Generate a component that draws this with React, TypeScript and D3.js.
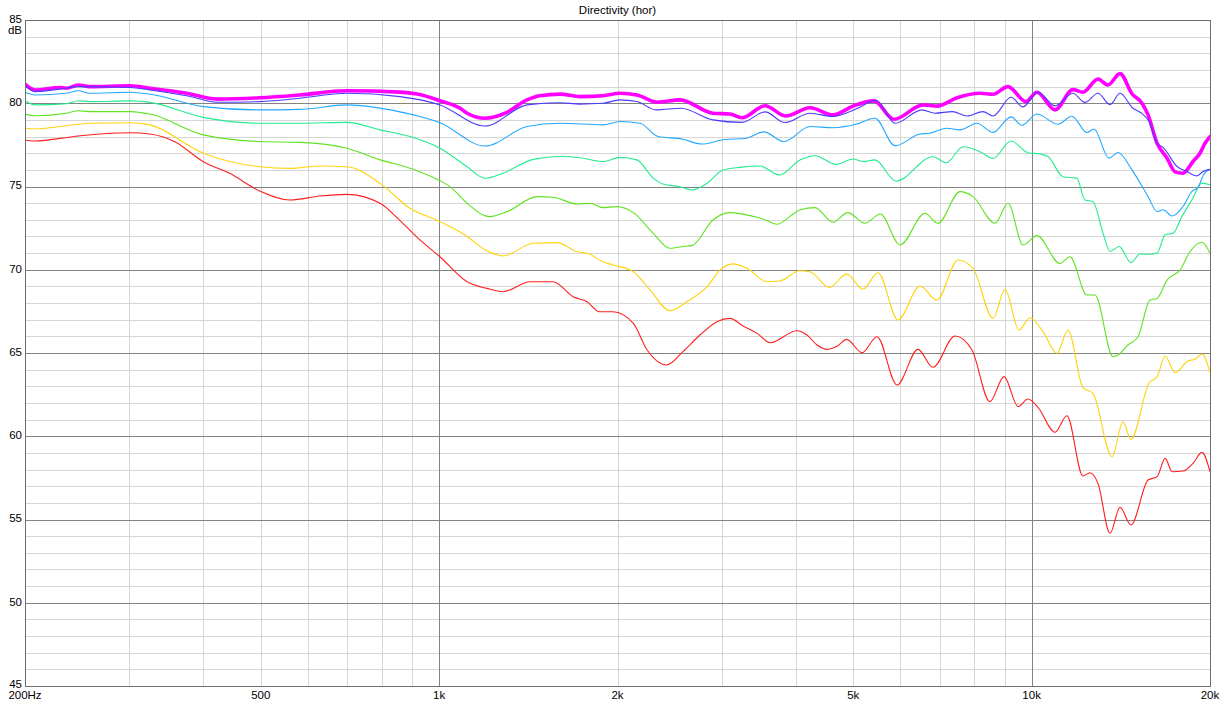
import React from 'react';
import * as d3 from 'd3';

const W = 1228;
const H = 716;
const PLOT = { left: 25, right: 1210, top: 20, bottom: 686 };

const title = 'Directivity (hor)';
const yUnit = 'dB';
const xLabelFreqs = [200, 500, 1000, 2000, 5000, 10000, 20000];
const xLabelTexts = ['200Hz', '500', '1k', '2k', '5k', '10k', '20k'];
const xMinorFreqs = [300, 400, 500, 600, 700, 800, 900, 2000, 3000, 4000, 5000, 6000, 7000, 8000, 9000];
const xMajorFreqs = [1000, 10000];
const yLabelValues = [45, 50, 55, 60, 65, 70, 75, 80, 85];
const yMinorValues = d3.range(46, 85, 1);

type Pt = [number, number];

const deg0: Pt[] = [[200,81.15],[208,80.8],[229,80.95],[235,80.9],[246,81.1],[257,81.0],[301,81.05],[325,80.9],[375,80.6],[422,80.25],[498,80.33],[582,80.5],[699,80.75],[859,80.67],[918,80.55],[1003,80.15],[1085,79.7],[1115,79.4],[1195,79.1],[1292,79.4],[1407,80.2],[1479,80.45],[1600,80.55],[1729,80.4],[1891,80.45],[2019,80.6],[2157,80.5],[2332,80.06],[2549,80.2],[2898,79.4],[3097,79.35],[3245,79.13],[3549,79.85],[3846,79.23],[4226,79.73],[4620,79.3],[4994,79.83],[5419,80.14],[5857,79.04],[6556,79.9],[6924,79.83],[7482,80.33],[8182,80.6],[8607,80.54],[9124,81.0],[9781,80.1],[10208,80.66],[10949,79.6],[11740,80.82],[12207,80.66],[12939,81.45],[13455,81.1],[14098,81.78],[14767,80.57],[15354,80.0],[15721,79.3],[16282,77.6],[16927,76.7],[17460,75.88],[18007,75.8],[18720,76.5],[19237,77.0],[19615,77.6],[20000,78.0]];

const deg15: Pt[] = [[200,81.05],[208,80.7],[229,80.85],[246,81.0],[301,80.95],[325,80.8],[375,80.45],[422,80.06],[498,80.1],[582,80.3],[699,80.6],[859,80.4],[1003,79.9],[1195,78.63],[1407,79.9],[1600,80.03],[1729,79.95],[1891,80.0],[2019,80.2],[2157,80.1],[2323,79.6],[2559,79.7],[2898,79.0],[3245,78.85],[3549,79.48],[3831,78.84],[4226,79.4],[4620,79.2],[5053,79.65],[5461,80.18],[5880,78.8],[6530,79.6],[6865,79.4],[7349,79.5],[7781,79.23],[8276,79.5],[8607,79.23],[9232,80.36],[9669,79.78],[10249,80.68],[10949,79.84],[11740,80.6],[12300,80.05],[12939,80.6],[13560,79.92],[14098,80.6],[14825,79.7],[15295,79.43],[15782,78.9],[16282,77.6],[16668,77.35],[17596,76.2],[18287,75.9],[19014,75.64],[19462,75.9],[20000,76.03]];

const deg30: Pt[] = [[200,80.66],[208,80.5],[235,80.6],[246,80.75],[257,80.6],[301,80.66],[325,80.54],[400,79.8],[498,79.6],[582,79.63],[699,79.9],[859,79.48],[928,79.2],[1003,78.83],[1195,77.43],[1407,78.6],[1600,78.8],[1891,78.7],[2019,78.9],[2183,78.8],[2341,78.0],[2569,77.85],[2778,77.55],[3037,77.82],[3283,77.88],[3534,78.28],[3817,77.7],[4226,78.6],[4620,78.53],[5033,78.72],[5440,79.1],[5880,77.44],[6480,78.15],[6736,78.2],[7180,78.5],[7571,78.4],[8087,78.8],[8607,78.25],[9232,79.18],[9630,78.68],[10208,79.35],[11078,78.74],[11695,79.22],[12398,78.24],[12740,78.45],[13508,76.7],[13990,77.04],[14767,76.0],[15721,74.4],[16282,73.5],[16668,73.6],[17264,73.23],[18007,73.8],[18646,74.7],[19088,74.95],[19538,75.75],[20000,76.03]];

const deg45: Pt[] = [[200,80.15],[208,79.9],[235,79.97],[246,80.15],[257,80.1],[301,80.14],[325,80.05],[400,79.15],[498,78.8],[582,78.8],[699,78.85],[795,78.4],[893,78.0],[1003,77.3],[1115,76.19],[1195,75.5],[1282,75.8],[1441,76.63],[1600,76.8],[1729,76.73],[1891,76.5],[2019,76.75],[2157,76.6],[2298,75.5],[2386,75.15],[2549,74.99],[2671,74.79],[2833,75.19],[3014,75.99],[3216,76.15],[3480,76.23],[3753,75.69],[4063,76.59],[4309,76.85],[4674,76.33],[4994,76.65],[5193,76.5],[5440,76.6],[5903,75.33],[6813,76.79],[7180,76.43],[7659,77.39],[8182,77.09],[8607,76.69],[9232,77.73],[9857,77.03],[10330,76.95],[10657,76.8],[11294,75.59],[11925,75.49],[12300,74.19],[12690,74.09],[13200,72.19],[13560,71.1],[14055,71.4],[14710,70.43],[15236,70.95],[15845,70.93],[16282,71.0],[16800,72.1],[17331,72.2],[17936,73.2],[18646,74.2],[19387,75.2],[20000,75.1]];

const deg60: Pt[] = [[200,79.35],[208,79.25],[235,79.4],[246,79.55],[257,79.5],[301,79.5],[325,79.35],[400,78.1],[498,77.7],[582,77.65],[699,77.3],[795,76.6],[893,76.1],[1003,75.35],[1043,74.99],[1115,73.99],[1216,73.19],[1302,73.49],[1464,74.39],[1557,74.35],[1711,73.95],[1798,73.99],[1891,73.73],[1996,73.79],[2127,73.43],[2298,72.19],[2451,71.29],[2619,71.43],[2671,71.45],[2898,72.99],[3097,73.43],[3348,73.25],[3520,73.05],[3719,72.73],[3906,73.19],[4063,73.59],[4309,73.73],[4620,72.85],[4893,73.43],[5233,72.79],[5553,73.35],[5997,71.49],[6607,73.39],[6946,72.79],[7571,74.69],[7962,74.39],[8675,72.79],[9124,73.99],[9669,71.49],[10208,72.05],[11163,70.38],[11605,70.78],[12398,68.48],[12790,68.48],[13720,64.78],[13990,64.88],[14541,65.48],[15118,65.98],[15845,68.18],[16282,68.28],[16927,69.38],[17800,69.98],[18502,71.08],[19387,71.65],[20000,70.99]];

const deg75: Pt[] = [[200,78.5],[208,78.45],[235,78.65],[257,78.8],[301,78.83],[325,78.7],[400,77.0],[443,76.5],[498,76.19],[560,76.09],[629,76.23],[699,76.19],[795,75.19],[893,73.69],[1003,72.89],[1115,72.0],[1195,71.2],[1282,70.83],[1441,71.59],[1581,71.63],[1711,71.08],[1784,70.98],[1891,70.48],[1965,70.29],[2127,69.88],[2271,68.78],[2451,67.54],[2619,68.08],[2833,68.98],[2979,69.98],[3133,70.35],[3309,70.09],[3577,69.28],[3753,69.32],[4063,69.94],[4226,69.88],[4559,68.94],[4874,69.74],[5193,68.84],[5505,69.82],[5949,66.98],[6480,69.02],[6919,68.18],[7511,70.59],[7962,70.09],[8607,67.08],[9018,68.82],[9518,66.38],[9934,67.12],[10452,66.28],[11035,64.98],[11517,66.38],[12207,62.92],[12690,62.58],[13666,58.77],[14263,60.87],[14710,59.81],[15782,63.2],[16282,63.58],[16800,64.82],[17460,63.82],[18358,64.52],[18866,64.62],[19387,64.94],[20000,63.82]];

const deg90: Pt[] = [[200,77.79],[208,77.73],[229,77.89],[248,78.05],[301,78.23],[325,78.15],[358,77.69],[400,76.49],[443,75.79],[498,74.73],[560,74.19],[629,74.43],[699,74.53],[795,73.99],[859,72.95],[928,71.79],[1003,70.78],[1115,69.28],[1204,68.88],[1282,68.68],[1424,69.28],[1557,69.28],[1683,68.38],[1777,68.08],[1865,67.48],[1965,67.48],[2127,66.78],[2244,65.18],[2422,64.28],[2579,65.08],[2756,66.08],[2944,66.88],[3097,67.08],[3258,66.62],[3441,66.18],[3618,65.62],[4017,66.34],[4177,66.08],[4343,65.48],[4524,65.22],[4692,65.4],[4874,65.82],[5173,65.02],[5483,65.98],[5926,63.08],[6429,65.22],[6813,64.14],[7424,66.02],[7931,65.18],[8502,62.08],[8982,63.58],[9489,61.78],[9857,62.24],[10249,61.74],[10949,60.24],[11470,61.23],[12207,57.61],[12543,57.81],[12939,57.18],[13560,54.17],[14098,55.73],[14710,54.67],[15721,57.37],[16282,57.57],[16800,58.67],[17264,57.87],[18007,57.91],[18720,58.37],[19387,59.03],[20000,57.87]];

// drawing order: bottom first
const seriesList = [
  { name: '90°', color: '#ff1f1f', width: 1.1, data: deg90 },
  { name: '75°', color: '#ffd20a', width: 1.1, data: deg75 },
  { name: '60°', color: '#5fe321', width: 1.1, data: deg60 },
  { name: '45°', color: '#22eb8c', width: 1.1, data: deg45 },
  { name: '30°', color: '#22a9ff', width: 1.1, data: deg30 },
  { name: '0°', color: '#ff00ff', width: 3.6, data: deg0 },
  { name: '15°', color: '#4b3bff', width: 1.1, data: deg15 },
];

const FONT = '"Liberation Sans", Arial, sans-serif';

export default function App() {
  const x = d3.scaleLog().domain([200, 20000]).range([PLOT.left, PLOT.right]);
  const y = d3.scaleLinear().domain([45, 85]).range([PLOT.bottom, PLOT.top]);
  const crisp = (v: number) => Math.round(v) + 0.5;

  const line = d3
    .line<Pt>()
    .x((d) => x(d[0]))
    .y((d) => y(d[1]))
    .curve(d3.curveMonotoneX);

  return (
    <svg
      width={W}
      height={H}
      style={{ position: 'absolute', left: 0, top: 0, background: '#fff' }}
      fontFamily={FONT}
    >
      <rect x={0} y={0} width={W} height={H} fill="#ffffff" />
      <defs>
        <clipPath id="plotClip">
          <rect x={PLOT.left} y={PLOT.top} width={PLOT.right - PLOT.left + 1} height={PLOT.bottom - PLOT.top + 1} />
        </clipPath>
      </defs>
      <g shapeRendering="crispEdges">
        {yMinorValues.filter((v) => v % 5 !== 0).map((v) => (
          <line key={'ym' + v} x1={PLOT.left} x2={PLOT.right} y1={crisp(y(v))} y2={crisp(y(v))} stroke="#d6d6d6" strokeWidth={1} />
        ))}
        {xMinorFreqs.map((f) => (
          <line key={'xm' + f} x1={crisp(x(f))} x2={crisp(x(f))} y1={PLOT.top} y2={PLOT.bottom} stroke="#d6d6d6" strokeWidth={1} />
        ))}
        {yLabelValues.filter((v) => v > 45 && v < 85).map((v) => (
          <line key={'yM' + v} x1={PLOT.left} x2={PLOT.right} y1={crisp(y(v))} y2={crisp(y(v))} stroke="#838383" strokeWidth={1} />
        ))}
        {xMajorFreqs.map((f) => (
          <line key={'xM' + f} x1={crisp(x(f))} x2={crisp(x(f))} y1={PLOT.top} y2={PLOT.bottom} stroke="#838383" strokeWidth={1} />
        ))}
      </g>
      <g clipPath="url(#plotClip)" fill="none" strokeLinejoin="round" strokeLinecap="round">
        {seriesList.map((s) => (
          <path key={s.name} d={line(s.data) || ''} stroke={s.color} strokeWidth={s.width} />
        ))}
      </g>
      <rect
        x={crisp(PLOT.left)}
        y={crisp(PLOT.top)}
        width={Math.round(PLOT.right) - Math.round(PLOT.left)}
        height={Math.round(PLOT.bottom) - Math.round(PLOT.top)}
        fill="none"
        stroke="#6e6e6e"
        strokeWidth={1}
        shapeRendering="crispEdges"
      />
      <text x={(PLOT.left + PLOT.right) / 2} y={14} textAnchor="middle" fontSize={11.5} fill="#000">
        {title}
      </text>
      {yLabelValues.map((v) => (
        <text
          key={'yl' + v}
          x={22}
          y={y(v) + (v === 45 ? 1.5 : 2.8)}
          textAnchor="end"
          fontSize={11.5}
          fill="#000"
        >
          {v}
        </text>
      ))}
      <text x={22} y={34} textAnchor="end" fontSize={11.5} fill="#000">
        {yUnit}
      </text>
      {xLabelFreqs.map((f, i) => (
        <text key={'xl' + f} x={x(f)} y={699} textAnchor="middle" fontSize={11.5} fill="#000">
          {xLabelTexts[i]}
        </text>
      ))}
    </svg>
  );
}
